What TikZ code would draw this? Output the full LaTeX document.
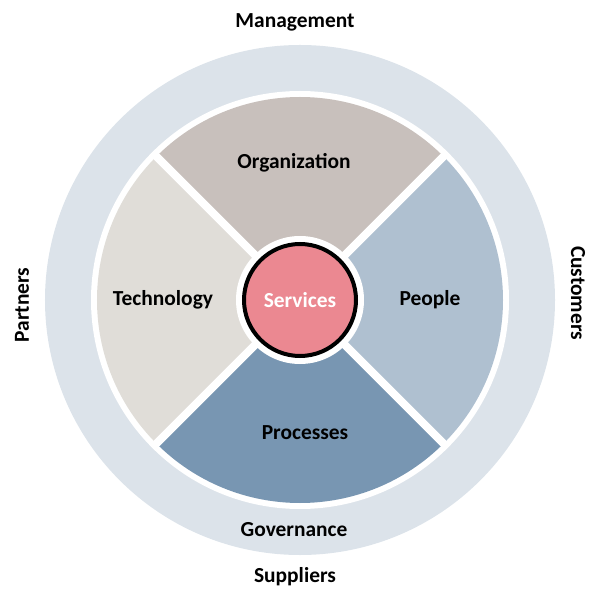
\documentclass[tikz,border=0pt]{standalone}
\usepackage{fontspec}
\setmainfont{Carlito}
\usetikzlibrary{positioning}
\definecolor{ringgray}{HTML}{DCE3EA}
\definecolor{orgbrown}{HTML}{C8C0BC}
\definecolor{techgray}{HTML}{E0DDD8}
\definecolor{peopleblue}{HTML}{AFC0D0}
\definecolor{procblue}{HTML}{7896B2}
\definecolor{servpink}{HTML}{EB8891}

\begin{document}
\begin{tikzpicture}[x=1bp, y=1bp,
  lbl/.style={font=\bfseries\fontsize{21.5}{25}\selectfont, inner sep=0pt}]
\useasboundingbox (-300,-290) rectangle (291,300);
%outer ring
\fill [ringgray] (0,0) circle (255);
\fill [white] (0,0) circle (209);
%quadrants
\fill [orgbrown] (0,0) -- (45:203) arc (45:135:203) -- cycle;
\fill [techgray] (0,0) -- (135:203) arc (135:225:203) -- cycle;
\fill [procblue] (0,0) -- (225:203) arc (225:315:203) -- cycle;
\fill [peopleblue] (0,0) -- (-45:203) arc (-45:45:203) -- cycle;
\foreach \a in {45,135,225,315}
  \draw [white, line width=8bp] (0,0) -- (\a:206);
%centre
\fill [white] (0,0) circle (64);
\draw [line width=4bp, fill=servpink] (0,0) circle (56);
\node [lbl, text=white] (services) at (0,0) {Services};
\node [lbl] (organization) at (-6,137) {Organization};
\node [lbl] (technology) at (-137,0) {Technology};
\node [lbl] (people) at (130,0) {People};
\node [lbl] (processes) at (5,-133) {Processes};
\node [lbl] (governance) at (-6,-230) {Governance};
%outside labels
\node [lbl] (management) at (-5,278) {Management};
\node [lbl] (suppliers) at (-5,-277) {Suppliers};
\node [lbl, rotate=90] (partners) at (-278,-5) {Partners};
\node [lbl, rotate=-90] (customers) at (278,7) {Customers};
\end{tikzpicture}
\end{document}
